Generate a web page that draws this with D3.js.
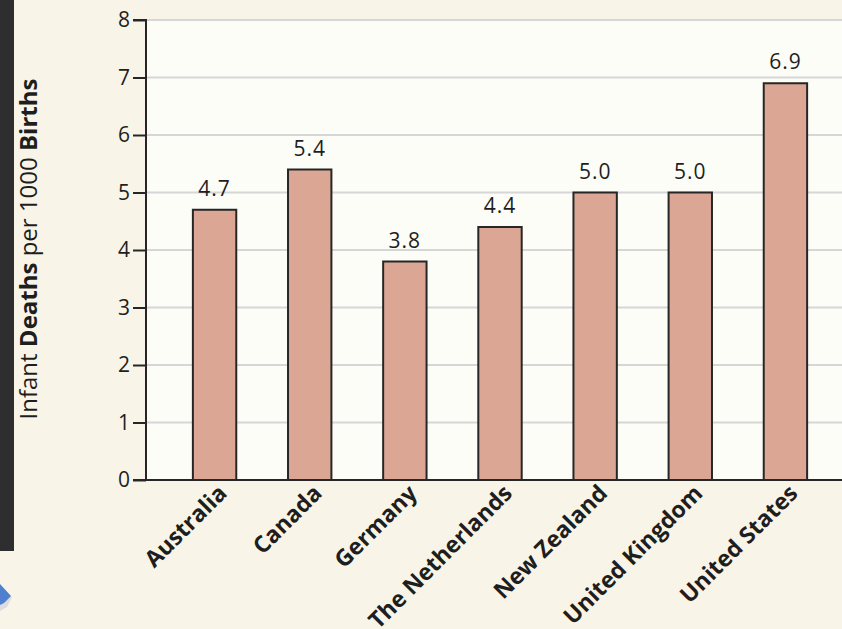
<!DOCTYPE html>
<html>
<head>
<meta charset="utf-8">
<script src="https://cdn.jsdelivr.net/npm/d3@7/dist/d3.min.js"></script>
<style>
  html, body { margin: 0; padding: 0; background: #f8f5e8; }
  svg { display: block; }
  text { font-family: "Open Sans", Lato, "DejaVu Sans", sans-serif; fill: #1e1e1e; }
</style>
</head>
<body>
<svg id="chart" width="842" height="629"></svg>
<script>
// Infant mortality by country
const countries = ["Australia", "Canada", "Germany", "The Netherlands", "New Zealand", "United Kingdom", "United States"];
const deaths = [4.7, 5.4, 3.8, 4.4, 5.0, 5.0, 6.9];
const yTicks = [0, 1, 2, 3, 4, 5, 6, 7, 8];

const svg = d3.select("#chart");
const W = 842, H = 629;
const plot = { left: 146, right: 842, top: 20, bottom: 480 };

// page background
svg.append("rect").attr("width", W).attr("height", H).attr("fill", "#f8f5e8");

// dark side strip and small blue ornament
svg.append("rect").attr("x", 0).attr("y", 0).attr("width", 14).attr("height", 551).attr("fill", "#2e2e2e");
svg.append("path")
  .attr("d", "M0,590 L12,597 L7,607 L0,611 Z")
  .attr("fill", "#dcdcdc");
svg.append("path")
  .attr("d", "M0,584 L11,596 L4,603 L0,605 Z")
  .attr("fill", "#4f7fcf");

const x = d3.scaleBand()
  .domain(countries)
  .range([167, 833])
  .paddingInner(0.544)
  .paddingOuter(0.272);

const y = d3.scaleLinear().domain([0, 8]).range([plot.bottom, plot.top]);

// plot panel
svg.append("rect")
  .attr("x", plot.left).attr("y", plot.top)
  .attr("width", plot.right - plot.left).attr("height", plot.bottom - plot.top)
  .attr("fill", "#fdfdf8");

// gridlines
svg.append("g")
  .selectAll("line")
  .data(yTicks.filter(d => d > 0))
  .join("line")
  .attr("x1", plot.left).attr("x2", plot.right)
  .attr("y1", d => y(d)).attr("y2", d => y(d))
  .attr("stroke", "#d6d6d6").attr("stroke-width", 2);

// bars
svg.append("g")
  .selectAll("rect")
  .data(countries)
  .join("rect")
  .attr("x", d => x(d))
  .attr("y", (d, i) => y(deaths[i]))
  .attr("width", x.bandwidth())
  .attr("height", (d, i) => y(0) - y(deaths[i]))
  .attr("fill", "#dba694")
  .attr("stroke", "#262626")
  .attr("stroke-width", 2);

// value labels
svg.append("g")
  .selectAll("text")
  .data(countries)
  .join("text")
  .attr("x", d => x(d) + x.bandwidth() / 2)
  .attr("y", (d, i) => y(deaths[i]) - 14)
  .attr("text-anchor", "middle")
  .attr("font-size", 21)
  .attr("letter-spacing", 1)
  .attr("fill", "#2a2a2a")
  .text((d, i) => d3.format(".1f")(deaths[i]));

// y axis
const yAxis = d3.axisLeft(y).tickValues(yTicks).tickSize(13).tickPadding(3).tickFormat(d3.format("d"));
const gy = svg.append("g").attr("transform", `translate(${plot.left},0)`).call(yAxis);
gy.select(".domain").attr("stroke", "#262626").attr("stroke-width", 2).attr("d", `M-13,${plot.top}H0V${plot.bottom}H-13`);
gy.selectAll(".tick line").attr("stroke", "#262626").attr("stroke-width", 2);
gy.selectAll(".tick text").attr("font-size", 21).attr("font-family", "'Open Sans', Lato, sans-serif").attr("fill", "#2a2a2a");

// x baseline
svg.append("line")
  .attr("x1", plot.left).attr("x2", plot.right)
  .attr("y1", plot.bottom).attr("y2", plot.bottom)
  .attr("stroke", "#262626").attr("stroke-width", 2);

// category labels
svg.append("g")
  .selectAll("text")
  .data(countries)
  .join("text")
  .attr("transform", d => `translate(${x(d) + x.bandwidth() / 2 + 8},${plot.bottom + 9}) rotate(-45)`)
  .attr("text-anchor", "end")
  .attr("dy", "0.35em")
  .attr("font-size", 23)
  .attr("font-weight", "bold")
  .text(d => d);

// y axis title
const title = svg.append("text")
  .attr("transform", `translate(37,249) rotate(-90)`)
  .attr("text-anchor", "middle")
  .attr("font-size", 24);
title.append("tspan").text("Infant ");
title.append("tspan").attr("font-weight", "bold").text("Deaths");
title.append("tspan").text(" per 1000 ");
title.append("tspan").attr("font-weight", "bold").text("Births");
</script>
</body>
</html>
